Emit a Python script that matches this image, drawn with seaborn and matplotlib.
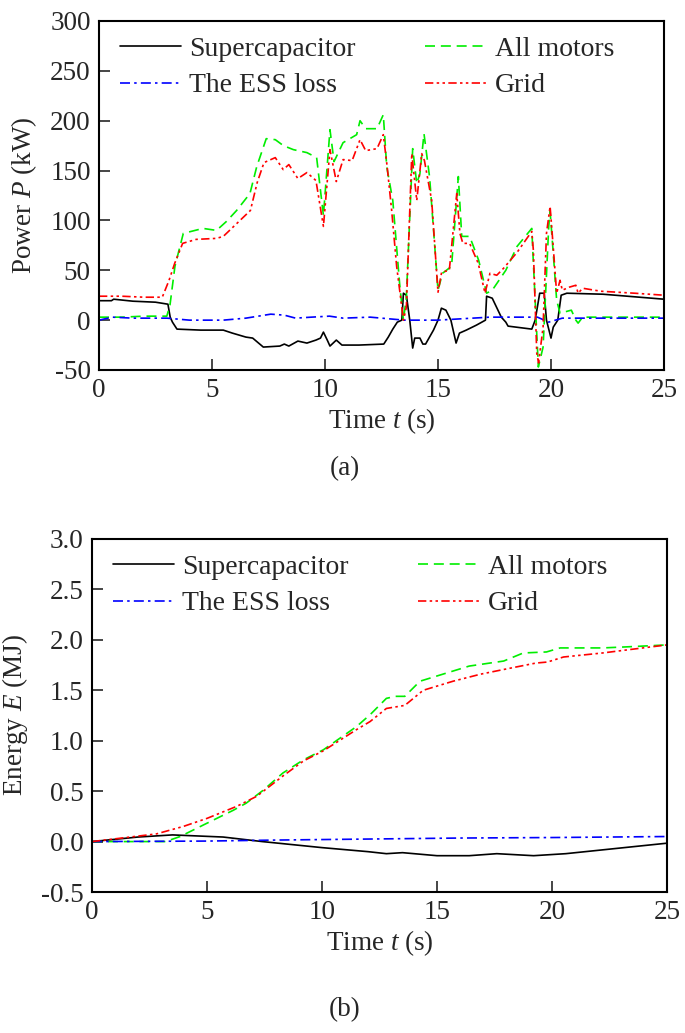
import numpy as np
import pandas as pd
import seaborn as sns
import matplotlib
matplotlib.use("Agg")
import matplotlib.pyplot as plt

# ---- data ----
# (a) power, kW
t_grid = [0, 1.0, 2.0, 2.8, 3.1, 3.35, 3.7, 4.3, 5.2, 5.5, 6.1, 6.7, 7.0, 7.3, 7.8, 8.15,
          8.4, 8.8, 9.2, 9.6, 9.93, 10.22, 10.5, 10.8, 11.2, 11.55, 11.8, 12.3, 12.58, 12.75,
          12.95, 13.17, 13.47, 13.6, 13.84, 14.06, 14.28, 14.4, 14.72, 15.0, 15.16, 15.5,
          15.83, 15.97, 16.1, 16.4, 16.78, 17.08, 17.3, 17.6, 17.9, 18.5, 19.15, 19.22,
          19.37, 19.45, 19.65, 19.8, 19.96, 20.1, 20.25, 20.4, 20.5, 20.8, 21.1, 21.2, 21.4,
          22.2, 23.7, 25.0]
p_grid = [24, 24, 23, 23, 40, 57, 77, 81, 82, 84, 97, 110, 138, 158, 163, 151,
          156, 142, 148, 140, 94, 171, 139, 161, 160, 181, 170, 172, 186, 154,
          110, 54, 0, 13, 167, 120, 167, 160, 120, 28, 48, 50,
          127, 87, 77, 77, 57, 27, 47, 45, 52, 68, 89, 70,
          -33, -43, -7, 87, 114, 73, 27, 40, 30, 33, 35, 27, 32,
          29, 27, 25]

t_motor = [0, 1, 2, 3, 3.14, 3.36, 3.73, 4.6, 5.2, 5.64, 6.09, 6.68, 6.98, 7.4, 7.8, 8.16,
           8.6, 9.2, 9.63, 9.93, 10.22, 10.4, 10.8, 11.4, 11.55, 11.8, 12.3, 12.58, 12.73,
           13.0, 13.3, 13.47, 13.6, 13.88, 14.06, 14.2, 14.38, 14.63, 15.0, 15.2, 15.6,
           15.9, 16.05, 16.4, 16.8, 17.15, 17.4, 18.0, 18.5, 19.15, 19.2, 19.44, 19.65,
           19.9, 19.96, 20.1, 20.25, 20.4, 20.9, 21.1, 21.2, 21.4, 25.0]
p_motor = [3, 3, 4, 4, 15, 54, 87, 92, 90, 99, 110, 127, 154, 182, 181, 175,
           171, 168, 163, 105, 191, 159, 178, 186, 200, 192, 192, 206, 154,
           120, 37, 0, 23, 172, 137, 147, 187, 143, 30, 47, 54,
           144, 84, 84, 60, 27, 30, 50, 74, 92, 67, -47, -27,
           94, 109, 67, 20, 7, 10, 0, -3, 3, 3]

t_sc = [0, 0.55, 0.65, 1.5, 2.5, 3.05, 3.15, 3.25, 3.45, 4.5, 5.5, 5.9, 6.5, 6.8, 7.27, 8.0,
        8.2, 8.4, 8.8, 9.2, 9.6, 9.8, 9.93, 10.1, 10.22, 10.5, 10.75, 11.5, 12.6, 12.8,
        13.0, 13.2, 13.4, 13.47, 13.6, 13.75, 13.88, 13.97, 14.2, 14.33, 14.45, 14.6, 14.8,
        15.0, 15.15, 15.35, 15.57, 15.8, 15.95, 16.25, 16.7, 17.1, 17.15, 17.4, 17.8,
        18.0, 18.1, 19.15, 19.3, 19.5, 19.7, 19.8, 20.0, 20.1, 20.3, 20.45, 20.7, 22.3, 25.0]
p_sc = [19.5, 19.5, 21, 19, 18, 16, 3, -2, -9, -10, -10, -13, -17, -18, -27, -26,
        -24, -26, -21, -23, -20, -18, -12, -20, -26, -20, -25, -25, -24, -17,
        -9, -2, 0, 27, 25, 0, -28, -18, -18, -24, -24, -18, -10,
        0, 12, 10, 0, -23, -13, -10, -5, 0, 24, 22, 3,
        -2, -6, -9, 0, 27, 27, 0, -18, -7, 0, 25, 27, 26, 21]

t_ess = [0, 0.6, 1.5, 3.0, 4.0, 5.5, 6.5, 7.6, 8.2, 8.7, 9.4, 10.2, 10.8, 12.0, 13.5,
         15.0, 17.3, 19.4, 19.9, 20.5, 22.0, 25.0]
p_ess = [0, 3, 2, 2, 0, 0, 2, 6, 5, 2, 3, 4, 2, 3, 0, 0, 3, 3, -2, 2, 2, 2]

# (b) energy, MJ
te_sc = [0, 2.0, 3.5, 5.7, 7.4, 10.0, 12.0, 12.8, 13.5, 15.0, 16.4, 17.6, 19.2, 20.6, 25.0]
e_sc = [0, 0.045, 0.066, 0.045, 0.0, -0.06, -0.1, -0.12, -0.11, -0.14, -0.14, -0.12, -0.14, -0.12, -0.016]

te_ess = [0, 5, 8, 12, 16, 20, 25]
e_ess = [0, 0.005, 0.015, 0.025, 0.035, 0.04, 0.05]

te_motor = [0, 2.0, 3.2, 3.83, 4.98, 6.14, 6.7, 7.45, 8.3, 9.19, 10.06, 11.5, 12.1, 12.8,
            13.2, 13.6, 14.26, 15.4, 16.4, 17.9, 18.75, 19.76, 20.35, 22.2, 23.2, 25.0]
e_motor = [0, 0.0, 0.0, 0.05, 0.18, 0.31, 0.38, 0.51, 0.68, 0.81, 0.91, 1.14, 1.26, 1.42,
           1.44, 1.44, 1.59, 1.67, 1.74, 1.79, 1.87, 1.88, 1.92, 1.92, 1.93, 1.95]

te_grid = [0, 2.8, 3.97, 5.0, 6.3, 7.17, 8.3, 9.2, 10.06, 11.5, 12.09, 12.8, 13.6, 14.4,
           15.7, 16.9, 18.2, 19.3, 19.8, 20.5, 22.2, 25.0]
e_grid = [0, 0.076, 0.15, 0.23, 0.35, 0.45, 0.65, 0.80, 0.90, 1.11, 1.19, 1.32, 1.35, 1.50,
          1.59, 1.66, 1.72, 1.77, 1.78, 1.83, 1.87, 1.95]

# ---- style ----
sns.set_theme(style="ticks")
plt.rcParams['font.family'] = ['Liberation Serif', 'DejaVu Serif']
plt.rcParams['mathtext.fontset'] = 'custom'
plt.rcParams['mathtext.rm'] = 'Liberation Serif'
plt.rcParams['mathtext.it'] = 'Liberation Serif:italic'
plt.rcParams['axes.unicode_minus'] = False

FS = 19.5
LW = 1.2
styles = {
    'Supercapacitor': dict(color='black', linestyle='-'),
    'All motors': dict(color='#00ee00', linestyle=(0, (6, 3.5))),
    'The ESS loss': dict(color='#0000ff', linestyle=(0, (6, 2.5, 1.5, 2.5))),
    'Grid': dict(color='#ff0000', linestyle=(0, (5, 2, 1.5, 2, 1.5, 2))),
}


def draw(ax, series, anchor_x):
    for name, (t, v) in series.items():
        df = pd.DataFrame({'t': t, 'v': v})
        sns.lineplot(data=df, x='t', y='v', ax=ax, label=name, lw=LW,
                     estimator=None, sort=False, **styles[name])
    h, l = ax.get_legend_handles_labels()
    order = ['Supercapacitor', 'The ESS loss', 'All motors', 'Grid']
    hs = [h[l.index(o)] for o in order]
    ax.legend(hs, order, ncol=2, loc='upper left', frameon=False, fontsize=20,
              handlelength=2.2, handletextpad=0.3, columnspacing=2.5,
              labelspacing=0.4, borderaxespad=0.15, bbox_to_anchor=(anchor_x, 1.0))
    ax.set_xlim(0, 25)
    ax.set_xticks(range(0, 26, 5))
    ax.tick_params(direction='in', length=8, width=1.2, labelsize=FS, pad=6,
                   top=False, right=False)
    for s in ax.spines.values():
        s.set_linewidth(1.5)
        s.set_color('black')
    ax.set_xlabel(r'Time $t$ (s)', fontsize=FS, labelpad=2)


fig = plt.figure(figsize=(6.85, 10.33), dpi=100)

ax1 = fig.add_axes([99 / 685, 1 - 370 / 1033, 565 / 685, 349 / 1033])
draw(ax1, {'Supercapacitor': (t_sc, p_sc), 'All motors': (t_motor, p_motor),
           'The ESS loss': (t_ess, p_ess), 'Grid': (t_grid, p_grid)}, 0.01)
ax1.set_ylim(-50, 300)
ax1.set_yticks(range(-50, 301, 50))
ax1.set_ylabel(r'Power $P$ (kW)', fontsize=FS, labelpad=8)

ax2 = fig.add_axes([92 / 685, 1 - 892 / 1033, 575 / 685, 353 / 1033])
draw(ax2, {'Supercapacitor': (te_sc, e_sc), 'All motors': (te_motor, e_motor),
           'The ESS loss': (te_ess, e_ess), 'Grid': (te_grid, e_grid)}, 0.01)
ax2.set_ylim(-0.5, 3.0)
ax2.set_yticks(np.arange(-0.5, 3.01, 0.5))
ax2.set_yticklabels([f'{v:.1f}' for v in np.arange(-0.5, 3.01, 0.5)])
ax2.set_ylabel(r'Energy $E$ (MJ)', fontsize=FS, labelpad=8)

fig.text(345 / 685, 1 - 469 / 1033, '(a)', ha='center', va='center', fontsize=FS)
fig.text(345 / 685, 1 - 1010 / 1033, '(b)', ha='center', va='center', fontsize=FS)

fig.savefig('out.png', dpi=100, facecolor='white')
